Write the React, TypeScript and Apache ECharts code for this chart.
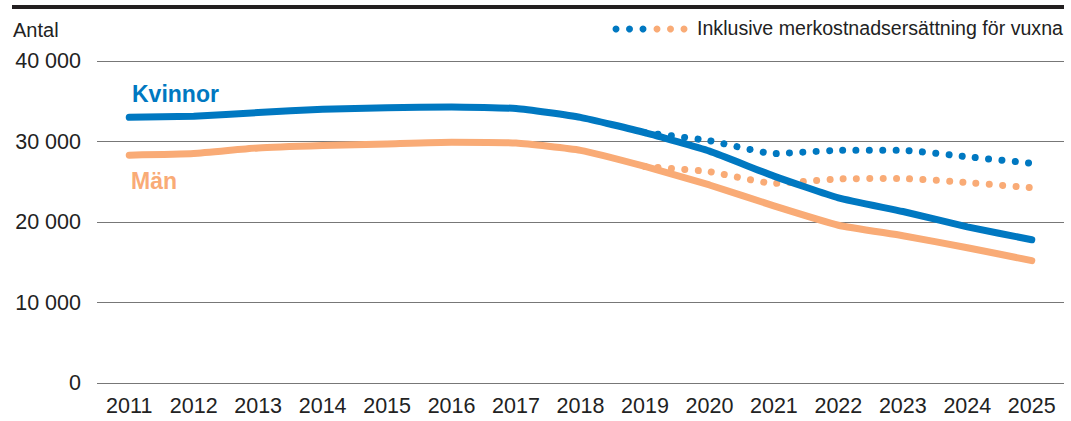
import React, { useEffect, useRef } from "react";
import * as echarts from "echarts";

const years = ["2011","2012","2013","2014","2015","2016","2017","2018","2019","2020","2021","2022","2023","2024","2025"];
const kvinnor = [33000, 33150, 33600, 34000, 34200, 34300, 34100, 33000, 31100, 28800, 25700, 23000, 21300, 19400, 17800];
const man = [28300, 28500, 29200, 29500, 29700, 29900, 29800, 28900, 26900, 24600, 22000, 19600, 18300, 16800, 15200];
const kvinnorInkl = [null, null, null, null, null, null, null, null, 31100, 30100, 28500, 28900, 28900, 28100, 27300];
const manInkl = [null, null, null, null, null, null, null, null, 26900, 26250, 24800, 25350, 25400, 24900, 24250];
const yTicks = [0, 10000, 20000, 30000, 40000];

const BLUE = "#0078c1";
const ORANGE = "#f9ab76";
const FONT = "'Liberation Sans', Arial, Helvetica, sans-serif";

const fmt = (v: number) => String(v).replace(/\B(?=(\d{3})+(?!\d))/g, " ");

export default function App() {
  const ref = useRef<HTMLDivElement>(null);
  useEffect(() => {
    document.body.style.margin = "0";
    const chart = echarts.init(ref.current!, null, { renderer: "svg" });
    const dotStyle = (color: string) => ({
      color,
      width: 7,
      type: [0.01, 13.3] as any,
      cap: "round" as const,
    });
    chart.setOption({
      animation: false,
      textStyle: { fontFamily: FONT },
      grid: { left: 97, right: 7, top: 61, bottom: 38, containLabel: false },
      xAxis: {
        type: "category",
        data: years,
        boundaryGap: true,
        axisLine: { show: false },
        axisTick: { show: false },
        axisLabel: { color: "#222", fontSize: 21.5, fontFamily: FONT, margin: 12 },
      },
      yAxis: {
        type: "value",
        min: yTicks[0],
        max: yTicks[yTicks.length - 1],
        interval: 10000,
        axisLine: { show: false },
        axisTick: { show: false },
        splitLine: { lineStyle: { color: "#777777", width: 1 } },
        axisLabel: {
          color: "#222",
          fontSize: 21.5,
          fontFamily: FONT,
          margin: 16,
          formatter: (v: number) => fmt(v),
        },
      },
      series: [
        {
          name: "Kvinnor inkl",
          type: "line",
          data: kvinnorInkl,
          symbol: "none",
          smooth: 0.15,
          lineStyle: dotStyle(BLUE),
          z: 2,
        },
        {
          name: "Män inkl",
          type: "line",
          data: manInkl,
          symbol: "none",
          smooth: 0.15,
          lineStyle: dotStyle(ORANGE),
          z: 2,
        },
        {
          name: "Män",
          type: "line",
          data: man,
          symbol: "none",
          smooth: 0.15,
          lineStyle: { color: ORANGE, width: 7, cap: "round", join: "round" },
          z: 3,
        },
        {
          name: "Kvinnor",
          type: "line",
          data: kvinnor,
          symbol: "none",
          smooth: 0.15,
          lineStyle: { color: BLUE, width: 7, cap: "round", join: "round" },
          z: 4,
        },
      ],
      graphic: [
        { type: "rect", left: 12, top: 5, shape: { width: 1052, height: 4 }, style: { fill: "#231f20" } },
        {
          type: "text", left: 13, top: 20,
          style: { text: "Antal", fontSize: 20, fontFamily: FONT, fill: "#222" },
        },
        { type: "circle", shape: { cx: 616, cy: 29, r: 3.5 }, style: { fill: BLUE } },
        { type: "circle", shape: { cx: 629.5, cy: 29, r: 3.5 }, style: { fill: BLUE } },
        { type: "circle", shape: { cx: 643, cy: 29, r: 3.5 }, style: { fill: BLUE } },
        { type: "circle", shape: { cx: 657, cy: 29, r: 3.5 }, style: { fill: ORANGE } },
        { type: "circle", shape: { cx: 670.5, cy: 29, r: 3.5 }, style: { fill: ORANGE } },
        { type: "circle", shape: { cx: 684, cy: 29, r: 3.5 }, style: { fill: ORANGE } },
        {
          type: "text", left: 697, top: 18,
          style: { text: "Inklusive merkostnadsersättning för vuxna", fontSize: 19.6, fontFamily: FONT, fill: "#222" },
        },
        {
          type: "text", left: 132, top: 82,
          style: { text: "Kvinnor", fontSize: 23, fontWeight: "bold", fontFamily: FONT, fill: BLUE },
        },
        {
          type: "text", left: 131, top: 169,
          style: { text: "Män", fontSize: 23, fontWeight: "bold", fontFamily: FONT, fill: ORANGE },
        },
      ],
    });
    return () => chart.dispose();
  }, []);
  return <div ref={ref} style={{ width: 1071, height: 421 }} />;
}
